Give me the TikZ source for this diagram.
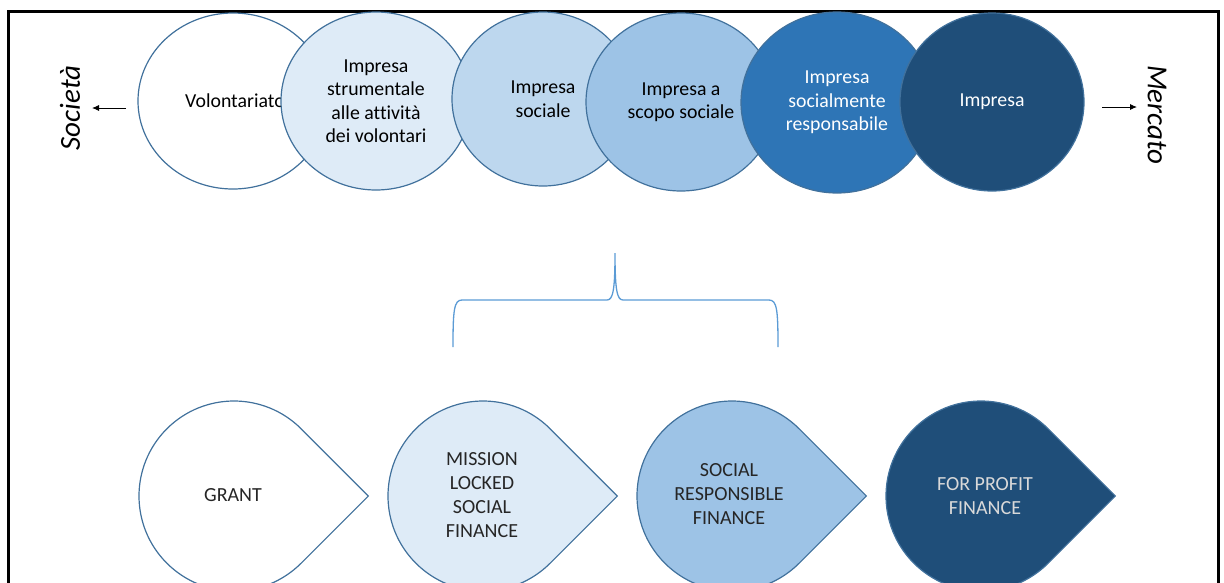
\documentclass[tikz,border=0pt]{standalone}
\usepackage{fontspec}
\setmainfont{Carlito}[Ligatures=NoCommon]
\usetikzlibrary{shapes.geometric,calc,arrows.meta}

\definecolor{edgeblue}{HTML}{41719C}
\definecolor{braceblue}{HTML}{5B9BD5}
\definecolor{tintA}{HTML}{DEEBF7}
\definecolor{tintB}{HTML}{BDD7EE}
\definecolor{tintC}{HTML}{9DC3E6}
\definecolor{midblue}{HTML}{2E75B6}
\definecolor{deepblue}{HTML}{1F4E79}
\definecolor{palegray}{HTML}{D9D9D9}

\tikzset{
  bubble/.style={ellipse, draw=edgeblue, line width=1.2pt, inner sep=0pt,
    align=center, font=\fontsize{19.8}{23.5}\selectfont},
  droptext/.style={align=center, inner sep=0pt,
    font=\fontsize{20}{24}\selectfont, text=black!85},
  dropline/.style={draw=edgeblue, line width=1.2pt},
  sidelabel/.style={font=\itshape\fontsize{29}{34}\selectfont, inner sep=0pt},
  pointer/.style={line width=0.9pt, -{Latex[length=7pt,width=6pt]}},
  frameline/.style={line width=2.7pt, black},
  bracket/.style={draw=braceblue, line width=1.3pt},
}

% teardrop: circle of radius 95pt with a right-angled tip pointing right
\newcommand\droplet[4]{%
  \coordinate (#1) at (#2,#3);
  \draw[dropline, fill=#4] ($(#1)+(45:95pt)$)
    arc[start angle=45, end angle=315, radius=95pt]
    -- ($(#1)+(134.35pt,0pt)$) -- cycle;
}

\begin{document}
\begin{tikzpicture}[x=1pt, y=-1pt]
  \useasboundingbox (0,0) rectangle (1224,582);

  % open frame
  \draw[frameline] (8.7,600) -- (8.7,11.7) -- (1218.3,11.7) -- (1218.3,600);

  % row of overlapping bubbles, each one over the previous
  \node[bubble, fill=white, minimum width=190pt, minimum height=176pt]
    (vol) at (233,101) {\hspace*{4pt}Volontariato};
  \node[bubble, fill=tintA, minimum width=190pt, minimum height=178pt]
    (strum) at (376,101) {Impresa\\strumentale\\alle attività\\dei volontari};
  \node[bubble, fill=tintB, minimum width=182pt, minimum height=174pt]
    (soc) at (543,99) {Impresa\\sociale};
  \node[bubble, fill=tintC, minimum width=190pt, minimum height=178pt]
    (scopo) at (681,102) {Impresa a\\scopo sociale};
  \node[bubble, fill=midblue, text=white, minimum width=192pt, minimum height=181pt]
    (resp) at (837,102.5) {Impresa\\socialmente\\responsabile};
  \node[bubble, fill=deepblue, text=white, minimum width=184pt, minimum height=178pt]
    (imp) at (992,102) {Impresa};

  % side labels with their arrows
  \node[sidelabel, rotate=90] (soclbl) at (70,108) {Società};
  \node[sidelabel, rotate=-90] (mktlbl) at (1157,115) {Mercato};
  \coordinate (lfrom) at (126,108);
  \coordinate (lto) at (92,108);
  \coordinate (rfrom) at (1102,107);
  \coordinate (rto) at (1137,107);
  \draw[pointer] (lfrom) -- (lto);
  \draw[pointer] (rfrom) -- (rto);

  % brace
  \coordinate (bl) at (453,347);
  \coordinate (bt) at (615,253);
  \coordinate (br) at (778,347);
  \draw[bracket] (bl) .. controls (453,310) and (454,300) .. (462,300)
    -- (607,300) .. controls (613,300) and (615,290) .. (bt)
    .. controls (615,290) and (617,300) .. (623,300)
    -- (769,300) .. controls (777,300) and (778,310) .. (br);

  % teardrops
  \droplet{grant}{234}{496}{white}
  \droplet{mission}{483}{496}{tintA}
  \droplet{srf}{732}{496}{tintC}
  \droplet{fpf}{981}{496}{deepblue}

  \node[droptext] (granttxt) at (233,495) {GRANT};
  \node[droptext] (missiontxt) at (482,495) {MISSION\\LOCKED\\SOCIAL\\FINANCE};
  \node[droptext] (srftxt) at (729,494) {SOCIAL\\RESPONSIBLE\\FINANCE};
  \node[droptext, text=palegray] (fpftxt) at (985,496) {FOR PROFIT\\FINANCE};
\end{tikzpicture}
\end{document}
